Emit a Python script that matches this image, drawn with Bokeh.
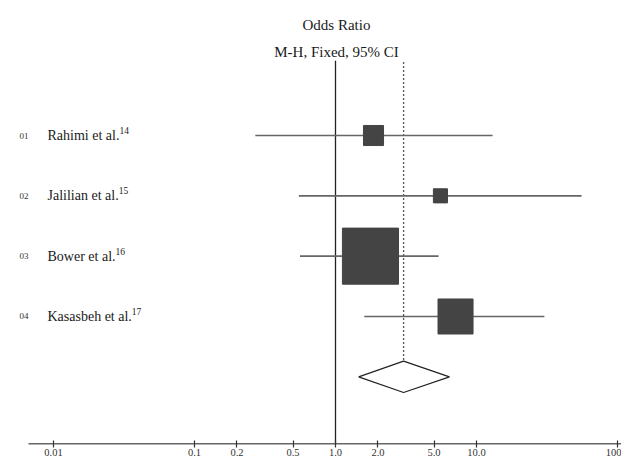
import math
from bokeh.plotting import figure
from bokeh.models import Range1d, FixedTicker, ColumnDataSource
from bokeh.core.properties import value
from bokeh.embed import file_html
from bokeh.resources import INLINE

# ---- data ----
study_ids = ["01", "02", "03", "04"]
studies = ["Rahimi et al.", "Jalilian et al.", "Bower et al.", "Kasasbeh et al."]
refs = ["14", "15", "16", "17"]
odds_ratio = [1.86, 5.55, 1.77, 7.10]
ci_lower = [0.27, 0.55, 0.56, 1.60]
ci_upper = [13.0, 55.6, 5.38, 30.3]
weight = [8.1, 4.0, 63.3, 24.7]
pooled_or = 3.04
pooled_lower = 1.46
pooled_upper = 6.43
tick_values = [0.01, 0.1, 0.2, 0.5, 1.0, 2.0, 5.0, 10.0, 100.0]
tick_labels = ["0.01", "0.1", "0.2", "0.5", "1.0", "2.0", "5.0", "10.0", "100"]
title_1 = "Odds Ratio"
title_2 = "M-H, Fixed, 95% CI"

SERIF = "Liberation Serif"

# approximate Times/Liberation Serif advance widths (em) for placing superscripts
ADV = {" ": .25, ".": .25, "a": .444, "b": .5, "e": .444, "h": .5, "i": .278, "l": .278,
       "m": .778, "n": .5, "o": .5, "r": .333, "s": .389, "t": .278, "w": .722,
       "B": .667, "J": .389, "K": .722, "R": .667}
def text_width(s, size):
    return sum(ADV.get(c, .5) for c in s) * size

rows = list(range(1, len(studies) + 1))
pooled_row = len(studies) + 1

# screen helpers (position constants, not data)
X_ONE = 335.0      # pixel of OR = 1
PX_DEC = 141.0     # pixels per decade
def xpix(px):
    return 10 ** ((px - X_ONE) / PX_DEC)

Y_BOTTOM = (444 - 74.67) / 60.33

p = figure(width=621, height=458, output_backend="svg", toolbar_location=None,
           x_axis_type="log", y_axis_location=None,
           x_range=Range1d(xpix(0), xpix(621)), y_range=Range1d(Y_BOTTOM, -1.238),
           min_border_left=0, min_border_right=0, min_border_top=0,
           min_border_bottom=14)
p.outline_line_color = None
p.xgrid.visible = False
p.ygrid.visible = False
p.background_fill_color = "white"
p.border_fill_color = "white"

ax = p.xaxis[0]
ax.ticker = FixedTicker(ticks=tick_values, minor_ticks=[])
ax.major_label_overrides = {v: l for v, l in zip(tick_values, tick_labels)}
ax.major_tick_in = 4
ax.major_tick_out = 3
ax.minor_tick_line_color = None
ax.axis_line_color = None
ax.major_tick_line_color = "#333333"
ax.major_tick_line_width = 1.2
ax.major_label_standoff = 1
ax.major_label_text_font = SERIF
ax.major_label_text_font_size = "10.5px"
ax.major_label_text_color = "#333333"

# axis baseline (starts at the left end like the reference)
p.segment(x0=[xpix(28)], y0=[Y_BOTTOM - 0.008], x1=[xpix(621)], y1=[Y_BOTTOM - 0.008],
          line_color="#333333", line_width=1.3)

# reference lines
p.segment(x0=[1.0], y0=[-0.24], x1=[1.0], y1=[Y_BOTTOM], line_color="#222222", line_width=1.3)
p.segment(x0=[pooled_or], y0=[-0.22], x1=[pooled_or], y1=[pooled_row - 0.26],
          line_color="#555555", line_width=1.3, line_dash="2 2")

# study CIs and boxes
src = ColumnDataSource(dict(
    row=rows, orr=odds_ratio, lo=ci_lower, hi=ci_upper,
    size=[7.05 * math.sqrt(w) for w in weight],
))
p.segment(x0="lo", y0="row", x1="hi", y1="row", source=src,
          line_color="#666666", line_width=1.6)
p.scatter(x="orr", y="row", size="size", marker="square", source=src,
          fill_color="#444444", line_color="#444444")

# pooled diamond
p.patch(x=[pooled_lower, pooled_or, pooled_upper, pooled_or],
        y=[pooled_row, pooled_row - 0.26, pooled_row, pooled_row + 0.26],
        fill_color="white", line_color="#222222", line_width=1.2)

# labels
p.text(x=[xpix(19)] * len(rows), y=rows, text=study_ids, text_font=value(SERIF),
       text_font_size="9px", text_baseline="middle", text_align="left", text_color="#333333")
lab = ColumnDataSource(dict(
    x=[xpix(47)] * len(rows), y=rows, name=studies, ref=refs,
    off=[text_width(s, 14) for s in studies],
))
p.text(x="x", y="y", text="name", source=lab,
       text_font=value(SERIF), text_font_size="14px", text_baseline="middle",
       text_align="left", text_color="#1a1a1a")
p.text(x="x", y="y", text="ref", source=lab, x_offset="off", y_offset=-5,
       text_font=value(SERIF), text_font_size="9.5px", text_baseline="middle",
       text_align="left", text_color="#1a1a1a")

title_x = xpix(336)
p.text(x=[title_x, title_x], y=[-0.84, -0.39], text=[title_1, title_2],
       text_font=value(SERIF), text_font_size="15px", text_baseline="middle",
       text_align="center", text_color="#1a1a1a")

open("out.html", "w").write(file_html(p, INLINE))
